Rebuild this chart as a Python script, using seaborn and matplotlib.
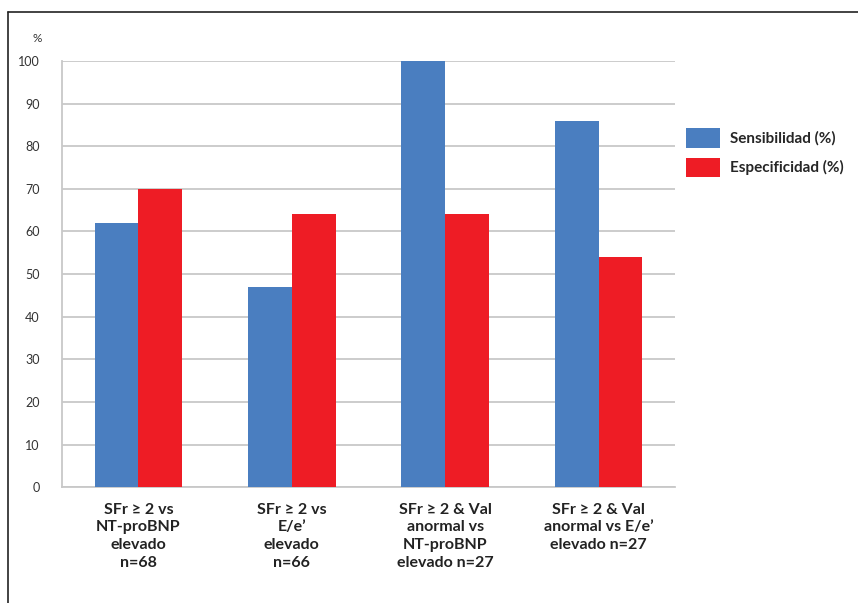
import seaborn as sns
import matplotlib.pyplot as plt
import pandas as pd
from matplotlib.lines import Line2D

categories = ["SFr ≥ 2 vs\nNT-proBNP\nelevado\nn=68",
              "SFr ≥ 2 vs\nE/e’\nelevado\nn=66",
              "SFr ≥ 2 & Val\nanormal vs\nNT-proBNP\nelevado n=27",
              "SFr ≥ 2 & Val\nanormal vs E/e’\nelevado n=27"]
sensibilidad = [62, 47, 100, 86]
especificidad = [70, 64, 64, 54]
series = ["Sensibilidad (%)", "Especificidad (%)"]
yticks = list(range(0, 101, 10))

df = pd.DataFrame({
    "cat": categories * 2,
    "serie": [series[0]] * 4 + [series[1]] * 4,
    "valor": sensibilidad + especificidad,
})

sns.set_style("white")
plt.rcParams['font.family'] = ['Lato', 'DejaVu Sans']

fig = plt.figure(figsize=(8.58, 6.03), dpi=100)
ax = fig.add_axes([0.072, 0.192, 0.715, 0.707])

sns.barplot(data=df, x="cat", y="valor", hue="serie", order=categories,
            palette=["#4A7EC0", "#EE1C25"], width=0.57, saturation=1,
            linewidth=0, ax=ax, zorder=3)

ax.set_ylim(0, 100)
ax.set_xlim(-0.5, 3.5)
ax.set_yticks(yticks)
ax.set_yticklabels([str(t) for t in yticks], fontsize=9, color="#333333")
ax.yaxis.grid(True, color="#C8C8C8", linewidth=1.3, zorder=0)
ax.set_axisbelow(True)
ax.tick_params(axis="y", length=6, color="#C8C8C8", width=1.2, pad=10)
ax.set_xlabel("")
ax.set_ylabel("")

ax.set_xticks(range(4))
ax.set_xticklabels(categories, fontsize=11.5, fontweight="bold", color="#222222",
                   linespacing=1.35)
ax.tick_params(axis="x", length=0, pad=11)
ax.set_xticks([-0.5, 0.5, 1.5, 2.5, 3.5], minor=True)
ax.tick_params(axis="x", which="minor", length=5, color="#C8C8C8", width=1.2)

for s in ["top", "right"]:
    ax.spines[s].set_visible(False)
for s in ["left", "bottom"]:
    ax.spines[s].set_color("#C8C8C8")
    ax.spines[s].set_linewidth(1.3)

ax.text(-0.04, 1.045, "%", transform=ax.transAxes, fontsize=8.5,
        color="#333333", ha="center")

leg = ax.legend(loc="upper left", bbox_to_anchor=(0.995, 0.875), frameon=False,
                prop={"weight": "bold", "size": 11}, handlelength=2.2,
                handleheight=1.6, labelspacing=0.65, handletextpad=0.7)

# frame around the figure (top and left edges visible)
fig.add_artist(Line2D([8 / 858, 1], [1 - 12 / 603, 1 - 12 / 603],
                      color="#222222", linewidth=1.2))
fig.add_artist(Line2D([8 / 858, 8 / 858], [0, 1 - 12 / 603],
                      color="#222222", linewidth=1.2))

fig.savefig("out.png", dpi=100)
